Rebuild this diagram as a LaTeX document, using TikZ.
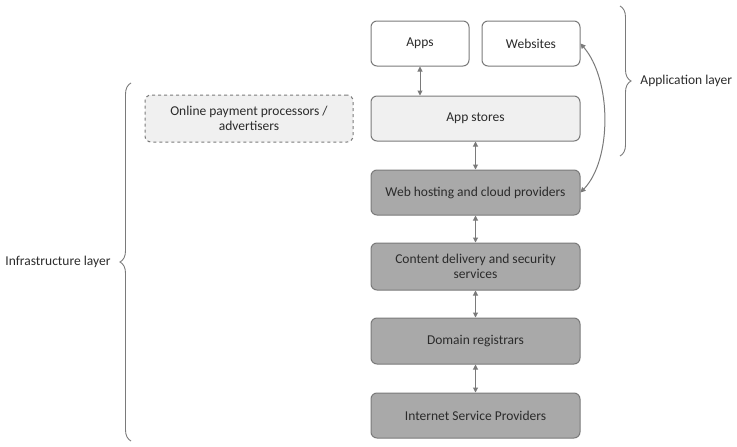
\documentclass[tikz,border=0pt]{standalone}
\usepackage{fontspec}
\setmainfont{Carlito}
\usetikzlibrary{arrows.meta,decorations.pathreplacing}
\definecolor{edge}{HTML}{7A7A7A}
\definecolor{ink}{HTML}{2B2B2B}
\definecolor{paleFill}{HTML}{F0F0F0}
\definecolor{darkFill}{HTML}{A9A9A9}
\tikzset{
  x=1pt, y=-1pt,
  layerbox/.style={draw=edge, line width=1pt, rounded corners=6pt, text=ink,
    align=center, font=\fontsize{13.5}{15.5}\selectfont, inner sep=0pt},
  whitebox/.style={layerbox, fill=white},
  palebox/.style={layerbox, fill=paleFill},
  darkbox/.style={layerbox, fill=darkFill},
  dashbox/.style={layerbox, fill=paleFill, dashed},
  link/.style={draw=edge, line width=1pt, {Triangle[length=5pt,width=5pt]}-{Triangle[length=5pt,width=5pt]}},
  bracket/.style={draw=edge, line width=0.9pt, decorate, decoration={brace, amplitude=11pt}},
  sidelabel/.style={text=ink, font=\fontsize{13.5}{15.5}\selectfont, inner sep=0pt}
}
\begin{document}
\begin{tikzpicture}
\useasboundingbox (0,0) rectangle (737,447);
% application layer
\node[whitebox, minimum width=98pt, minimum height=45pt] (apps) at (420,43.5) {Apps};
\node[whitebox, minimum width=98pt, minimum height=45pt] (web) at (531,43.5) {Websites};
\node[palebox, minimum width=209pt, minimum height=45pt] (store) at (475.5,118.5) {App stores};
% infrastructure layer
\node[darkbox, minimum width=209pt, minimum height=45pt] (host) at (475.5,192.5) {Web hosting and cloud providers};
\node[darkbox, minimum width=209pt, minimum height=47pt] (cdn) at (475.5,266.5) {Content delivery and security\\services};
\node[darkbox, minimum width=209pt, minimum height=46pt] (dns) at (475.5,341) {Domain registrars};
\node[darkbox, minimum width=209pt, minimum height=45pt] (isp) at (475.5,415.5) {Internet Service Providers};
\node[dashbox, minimum width=208pt, minimum height=47pt] (pay) at (249,118.5) {Online payment processors /\\advertisers};
% connectors
\draw[link] (apps.south) -- (apps.south |- store.north);
\draw[link] (store.south) -- (host.north);
\draw[link] (host.south) -- (cdn.north);
\draw[link] (cdn.south) -- (dns.north);
\draw[link] (dns.south) -- (isp.north);
\draw[link] (web.east) .. controls (612,80) and (612,160) .. (host.east);
% layer braces
\coordinate (appTop) at (620,6);
\coordinate (appBot) at (620,156);
\draw[bracket] (appTop) -- (appBot) node[midway, right=20pt, sidelabel] (applbl) {Application layer};
\coordinate (infTop) at (131,83);
\coordinate (infBot) at (131,441);
\draw[bracket] (infBot) -- (infTop) node[midway, left=20pt, sidelabel] (inflbl) {Infrastructure layer};
\end{tikzpicture}
\end{document}
